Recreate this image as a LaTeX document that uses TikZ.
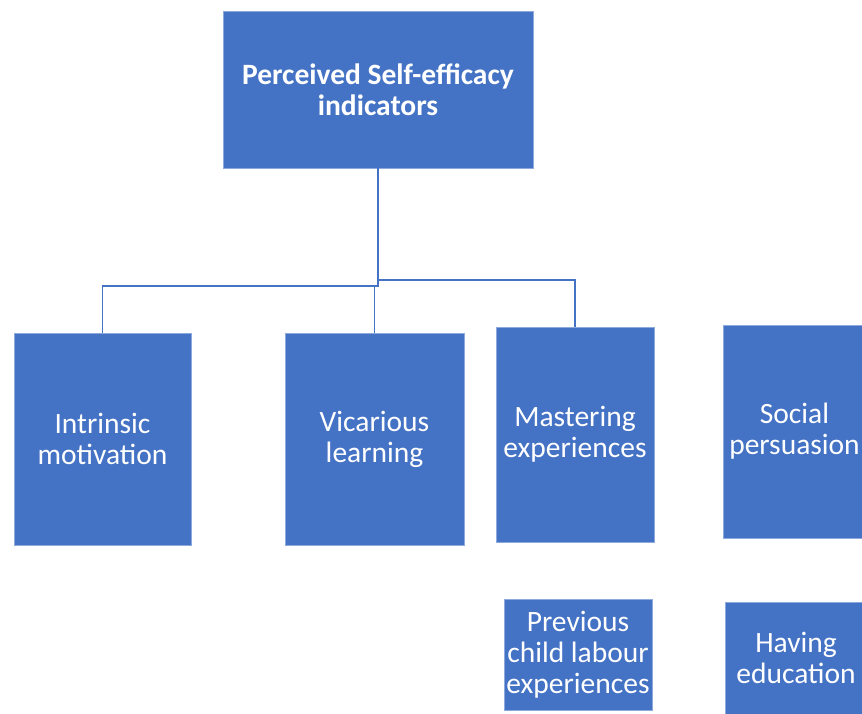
\documentclass[tikz,border=0pt]{standalone}
\usepackage{fontspec}
\setmainfont{Carlito}
\definecolor{boxblue}{HTML}{4472C4}
\definecolor{boxedge}{HTML}{8EA9DB}

\begin{document}
\begin{tikzpicture}[x=1pt,y=-1pt,
  card/.style={fill=boxblue,draw=boxedge,line width=.6pt,text=white,align=center,
    inner sep=0pt,font=\fontsize{29.5}{31}\selectfont},
  link/.style={draw=boxblue,line width=1.3pt}]
\useasboundingbox (0,0) rectangle (862,713);
\clip (0,0) rectangle (862,713);

\node[card,minimum width=310,minimum height=157,font=\bfseries\fontsize{29.5}{31}\selectfont]
  (top) at (378,89.5) {Perceived Self-efficacy\\indicators};

\node[card,minimum width=177,minimum height=212] (intr) at (102.5,439) {Intrinsic\\motivation};
\node[card,minimum width=179,minimum height=212] (vica) at (374.5,439) {Vicarious\\learning};
\node[card,minimum width=158,minimum height=215] (mast) at (575,434.5) {Mastering\\experiences};
\node[card,minimum width=143,minimum height=213] (soc) at (794.5,431.5) {Social\\persuasion};
\node[card,minimum width=148,minimum height=111] (prev) at (578,654.5) {Previous\\child labour\\experiences};
\node[card,minimum width=142,minimum height=112] (educ) at (796,658) {Having\\education};

\coordinate (forkl) at (378,286);
\coordinate (forkr) at (378,280);
\draw[link] (top.south) -- (forkl) -| (intr.north);
\draw[link] (forkl -| vica.north) -- (vica.north);
\draw[link] (forkr) -| (mast.north);
\end{tikzpicture}
\end{document}
